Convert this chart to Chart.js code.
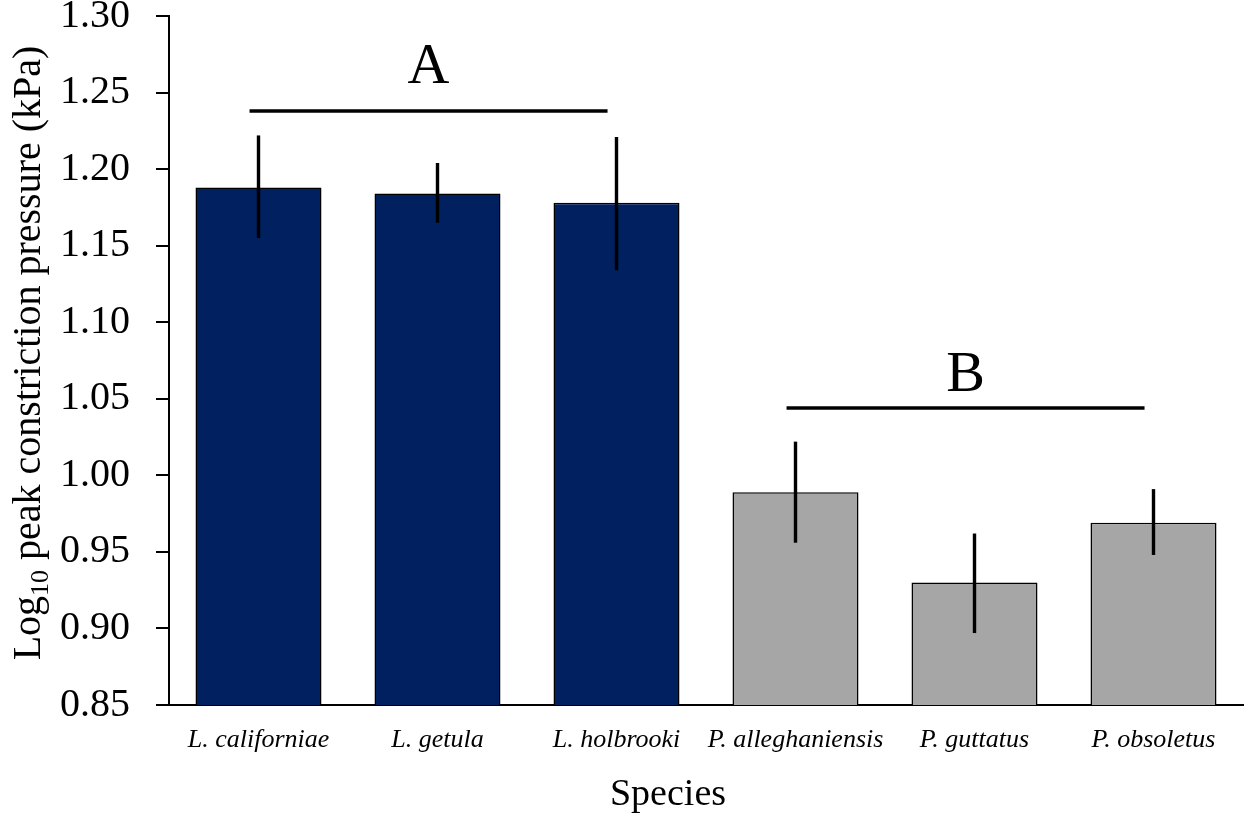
<!DOCTYPE html>
<html>
<head>
<meta charset="utf-8">
<script src="https://cdn.jsdelivr.net/npm/chart.js@4.4.1/dist/chart.umd.min.js"></script>
<style>
  html, body { margin: 0; padding: 0; background: #ffffff; }
  #wrap { width: 1248px; height: 816px; position: relative; }
</style>
</head>
<body>
<div id="wrap"><canvas id="c" width="1248" height="816"></canvas></div>
<script>
// Species on the x axis
const species = ['L. californiae', 'L. getula', 'L. holbrooki', 'P. alleghaniensis', 'P. guttatus', 'P. obsoletus'];
// Mean log10 peak constriction pressure (kPa)
const meanLogPressure = [1.188, 1.184, 1.178, 0.989, 0.930, 0.969];
// Error bar ends
const errUpper = [1.222, 1.204, 1.221, 1.022, 0.962, 0.991];
const errLower = [1.155, 1.165, 1.134, 0.956, 0.897, 0.948];
// Y axis tick values
const yTicks = [0.85, 0.90, 0.95, 1.00, 1.05, 1.10, 1.15, 1.20, 1.25, 1.30];
// Homogeneous subsets: first and last species index, line level, letter level
const groupLetters = ['A', 'B'];
const groupFrom = [0, 3];
const groupTo = [2, 5];
const groupLevel = [1.238, 1.044];
const groupLetterLevel = [1.256, 1.055];

const NAVY = '#002060';
const GREY = '#A6A6A6';
const barColors = species.map((s, i) => i < 3 ? NAVY : GREY);
const SERIF = "'Liberation Serif', 'Times New Roman', serif";

const errorBars = {
  id: 'errorBars',
  afterDatasetsDraw(chart) {
    const { ctx, scales: { y } } = chart;
    const meta = chart.getDatasetMeta(0);
    ctx.save();
    ctx.strokeStyle = '#000';
    ctx.lineWidth = 3.4;
    ctx.lineCap = 'butt';
    meta.data.forEach((bar, i) => {
      ctx.beginPath();
      ctx.moveTo(bar.x, y.getPixelForValue(errUpper[i]));
      ctx.lineTo(bar.x, y.getPixelForValue(errLower[i]));
      ctx.stroke();
    });
    ctx.restore();
  }
};

const groupMarks = {
  id: 'groupMarks',
  afterDatasetsDraw(chart) {
    const { ctx, scales: { x, y } } = chart;
    ctx.save();
    groupLetters.forEach((letter, g) => {
      const x0 = x.getPixelForValue(groupFrom[g] - 0.05);
      const x1 = x.getPixelForValue(groupTo[g] - 0.05);
      const yl = y.getPixelForValue(groupLevel[g]);
      ctx.strokeStyle = '#000';
      ctx.lineWidth = 3.6;
      ctx.beginPath();
      ctx.moveTo(x0, yl);
      ctx.lineTo(x1, yl);
      ctx.stroke();
      ctx.fillStyle = '#000';
      ctx.font = `58px ${SERIF}`;
      ctx.textAlign = 'center';
      ctx.textBaseline = 'alphabetic';
      ctx.fillText(letter, (x0 + x1) / 2, y.getPixelForValue(groupLetterLevel[g]));
    });
    ctx.restore();
  }
};

const axisTitles = {
  id: 'axisTitles',
  afterDraw(chart) {
    const { ctx } = chart;
    ctx.save();
    ctx.fillStyle = '#000';
    ctx.textBaseline = 'alphabetic';
    // y axis title with subscript
    const big = `40px ${SERIF}`;
    const small = `26px ${SERIF}`;
    const p1 = 'Log', p2 = '10', p3 = ' peak constriction pressure (kPa)';
    ctx.font = big; const w1 = ctx.measureText(p1).width; const w3 = ctx.measureText(p3).width;
    ctx.font = small; const w2 = ctx.measureText(p2).width;
    const total = w1 + w2 + w3;
    ctx.translate(40, 353);
    ctx.rotate(-Math.PI / 2);
    ctx.textAlign = 'left';
    let cx = -total / 2;
    ctx.font = big; ctx.fillText(p1, cx, 0); cx += w1;
    ctx.font = small; ctx.fillText(p2, cx, 8); cx += w2;
    ctx.font = big; ctx.fillText(p3, cx, 0);
    ctx.restore();
    // x axis title
    ctx.save();
    ctx.fillStyle = '#000';
    ctx.font = `38px ${SERIF}`;
    ctx.textAlign = 'center';
    ctx.textBaseline = 'alphabetic';
    ctx.fillText('Species', 668, 805);
    ctx.restore();
  }
};

new Chart(document.getElementById('c'), {
  type: 'bar',
  data: {
    labels: species,
    datasets: [{
      data: meanLogPressure,
      backgroundColor: barColors,
      borderColor: '#000',
      borderWidth: 1.5,
      borderSkipped: false,
      barPercentage: 0.704,
      categoryPercentage: 1.0
    }]
  },
  options: {
    responsive: false,
    animation: false,
    devicePixelRatio: 1,
    layout: { autoPadding: false, padding: { top: 16, right: 5, left: 0, bottom: 0 } },
    plugins: { legend: { display: false }, tooltip: { enabled: false }, title: { display: false } },
    scales: {
      x: {
        type: 'category',
        offset: true,
        grid: { display: false },
        border: { display: true, color: '#000', width: 2 },
        ticks: {
          color: '#000',
          padding: 12,
          maxRotation: 0,
          autoSkip: false,
          font: { family: SERIF, size: 26, style: 'italic' }
        },
        afterFit(scale) {
          scale.height = 111;
          scale.paddingLeft = 0; scale.paddingRight = 0;
        }
      },
      y: {
        min: 0.85,
        max: 1.30,
        grid: { display: true, drawOnChartArea: false, drawTicks: true, tickLength: 13, color: '#000', lineWidth: 2 },
        border: { display: true, color: '#000', width: 2 },
        ticks: {
          color: '#000',
          padding: 26,
          font: { family: SERIF, size: 40 },
          callback: v => Number(v).toFixed(2)
        },
        afterBuildTicks(scale) { scale.ticks = yTicks.map(v => ({ value: v })); },
        afterFit(scale) {
          scale.width = 169;
          scale.paddingTop = 0; scale.paddingBottom = 0;
        }
      }
    }
  },
  plugins: [errorBars, groupMarks, axisTitles]
});
</script>
</body>
</html>
